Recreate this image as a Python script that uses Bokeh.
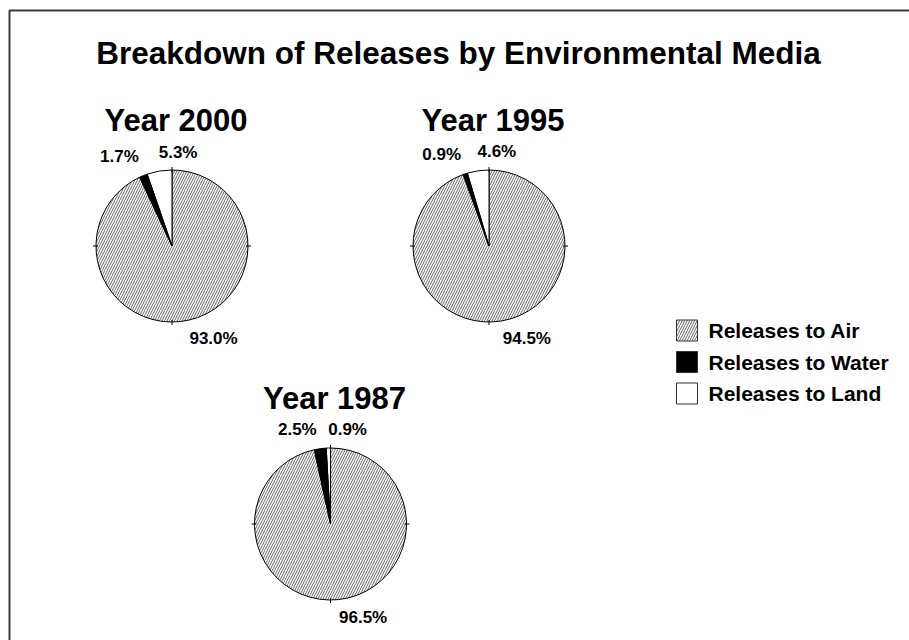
import math
from bokeh.plotting import figure
from bokeh.models import Range1d
from bokeh.core.properties import value
from bokeh.embed import file_html
from bokeh.resources import INLINE

# ---------------- data ----------------
chart_title = "Breakdown of Releases by Environmental Media"
years = ["Year 2000", "Year 1995", "Year 1987"]
media = ["Releases to Air", "Releases to Water", "Releases to Land"]
air = [93.0, 94.5, 96.5]
water = [1.7, 0.9, 2.5]
land = [5.3, 4.6, 0.9]

# ---------------- layout / style ----------------
W, H = 909, 640
FONT = value("Liberation Sans")
R = 76
centers_px = [(171.5, 245.5), (488.5, 245.5), (330.0, 523.5)]
HATCH_COLOR = "#666666"
HATCH_SCALE = 5


def Y(py):
    return H - py


p = figure(width=W, height=H, output_backend="svg", toolbar_location=None,
           x_range=Range1d(0, W), y_range=Range1d(0, H),
           min_border=0, min_border_left=0, min_border_right=0,
           min_border_top=0, min_border_bottom=0)
p.axis.visible = False
p.grid.visible = False
p.outline_line_color = None
p.background_fill_color = "white"
p.border_fill_color = "white"

# outer frame (extends beyond the window to the right and bottom)
p.quad(left=[9], right=[W + 20], top=[Y(10)], bottom=[Y(H + 20)],
       fill_color=None, line_color="#3a3a3a", line_width=2)

# title
p.text(x=[458], y=[Y(52)], text=[chart_title], text_font=FONT,
       text_font_style="bold", text_font_size="31.5px", text_align="center",
       text_baseline="middle", text_color="black")

# pies
slice_names = ["land", "water", "air"]
for i, (cxp, cyp) in enumerate(centers_px):
    cx, cy = cxp, Y(cyp)
    vals = [land[i], water[i], air[i]]
    total = sum(vals)
    a = math.pi / 2
    starts, ends = [], []
    for v in vals:
        starts.append(a)
        a += v / total * 2 * math.pi
        ends.append(a)
    ends[-1] = math.pi / 2 + 2 * math.pi

    # air (hatched)
    p.wedge(x=[cx], y=[cy], radius=R, start_angle=[starts[2]], end_angle=[ends[2]],
            direction="anticlock", fill_color="white", hatch_pattern="/",
            hatch_color=HATCH_COLOR, hatch_scale=HATCH_SCALE, hatch_weight=1,
            line_color="black", line_width=1)
    # land (white), water (black)
    p.wedge(x=[cx, cx], y=[cy, cy], radius=R, start_angle=starts[:2], end_angle=ends[:2],
            direction="anticlock", fill_color=["white", "black"],
            line_color="black", line_width=1)

    # compass ticks
    for ang in (0, math.pi / 2, math.pi, 3 * math.pi / 2):
        p.segment(x0=[cx + (R - 2) * math.cos(ang)], y0=[cy + (R - 2) * math.sin(ang)],
                  x1=[cx + (R + 3) * math.cos(ang)], y1=[cy + (R + 3) * math.sin(ang)],
                  line_color="black", line_width=1)

    # year label
    p.text(x=[cx + 4], y=[cy + R + 50], text=[years[i]], text_font=FONT,
           text_font_style="bold", text_font_size="31px", text_align="center",
           text_baseline="middle", text_color="black")

    # percentage labels
    for k, v in enumerate(vals):
        m = (starts[k] + ends[k]) / 2
        ax = cx + 80 * math.cos(m)
        ay = cy + 80 * math.sin(m)
        align = "right" if slice_names[k] == "water" else "left"
        xoff = -3 if slice_names[k] == "water" else 0
        yoff = -15 if math.sin(m) > 0 else 14
        p.text(x=[ax], y=[ay], text=[f"{v:.1f}%"], text_font=FONT,
               text_font_style="bold", text_font_size="17px", text_align=align,
               text_baseline="middle", x_offset=xoff, y_offset=yoff, text_color="black")

# legend
leg_x, leg_y0, leg_dy, box = 686.5, 330.0, 31.5, 21
for j, name in enumerate(media):
    yy = Y(leg_y0 + j * leg_dy)
    if j == 0:
        p.rect(x=[leg_x], y=[yy], width=box, height=box, fill_color="white",
               hatch_pattern="/", hatch_color=HATCH_COLOR, hatch_scale=HATCH_SCALE,
               hatch_weight=1, line_color="#333333", line_width=1)
    else:
        p.rect(x=[leg_x], y=[yy], width=box, height=box,
               fill_color="black" if j == 1 else "white",
               line_color="#333333", line_width=1)
    p.text(x=[leg_x + 21.5], y=[yy], text=[name], text_font=FONT,
           text_font_style="bold", text_font_size="21px", text_align="left",
           text_baseline="middle", text_color="black")

open("out.html", "w").write(file_html(p, INLINE))
